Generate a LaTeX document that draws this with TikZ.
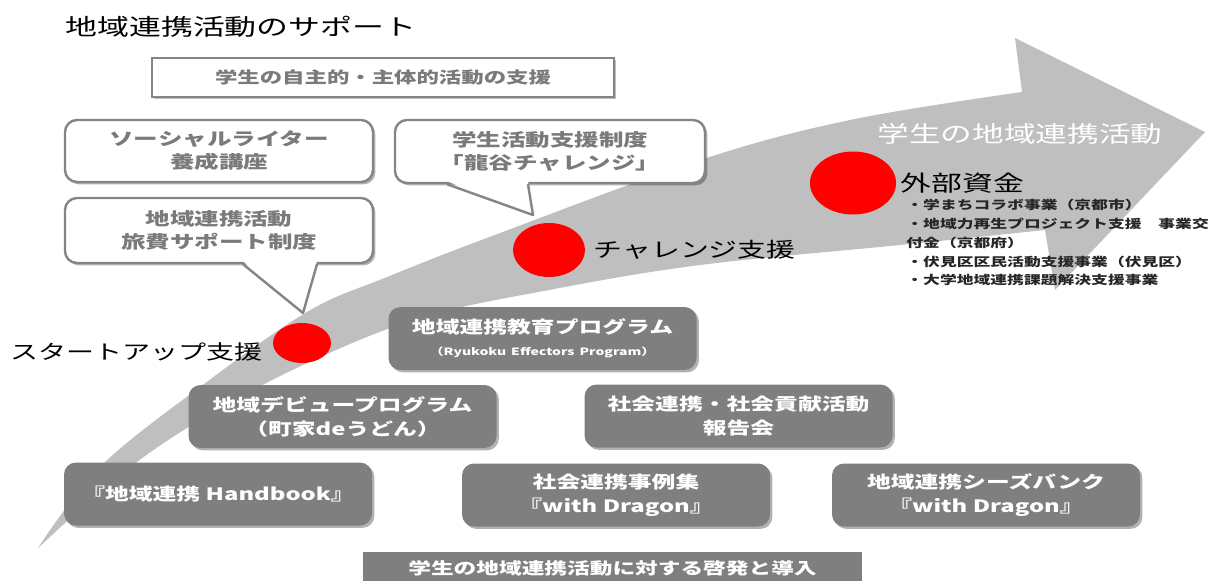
\documentclass[tikz,border=0pt]{standalone}
\usepackage{fontspec}
\setmainfont[FakeStretch=1.4]{Noto Sans CJK JP}
\usetikzlibrary{positioning,shapes.geometric,shadows}

\definecolor{boxgray}{HTML}{7F7F7F}
\definecolor{bandgray}{HTML}{BFBFBF}
\definecolor{linegray}{HTML}{858585}
\definecolor{txtgray}{HTML}{7A7A7A}

\begin{document}
\begin{tikzpicture}[x=0.5pt,y=-0.5pt,
    darkbox/.style={fill=boxgray, rounded corners=6pt, minimum width=154pt, minimum height=31.5pt,
      align=center, text=white, font=\bfseries\fontsize{8.5}{12}\selectfont,
      drop shadow={shadow xshift=1.2pt, shadow yshift=-1.2pt, fill=black, opacity=.3}},
    callout/.style={draw=linegray, line width=1.2pt, fill=white, rounded corners=6pt,
      minimum width=154pt, minimum height=31pt, align=center, text=txtgray,
      font=\bfseries\fontsize{8.75}{11.5}\selectfont,
      drop shadow={shadow xshift=1.2pt, shadow yshift=-1.2pt, fill=black, opacity=.3}},
    reddot/.style={ellipse, fill=red, inner sep=0pt},
    steplabel/.style={anchor=west, inner sep=0pt, text=black}]
  \useasboundingbox (0,0) rectangle (1227,580);

  % curved arrow of the activities
  \fill[bandgray] plot[smooth, tension=0.6] coordinates {(38,548) (100,467) (200,387) (307,312)
      (387,277) (500,233) (700,160) (850,120) (1022,92)}
    -- (1015,38) -- (1205,132) -- (1055,290) -- (1045,230)
    -- plot[smooth, tension=0.6] coordinates {(1045,230) (900,245) (700,265) (549,290) (420,318)
      (303,365) (200,420) (120,475) (38,548)} -- cycle;
  \node[text=white, font=\fontsize{11.3}{13}\selectfont] (flowlabel) at (1020,134) {学生の地域連携活動};

  % title and upper support
  \node[anchor=west, inner sep=0pt, font=\fontsize{11.4}{13}\selectfont] (title) at (65,27) {地域連携活動のサポート};
  \node[draw=linegray, line width=1.2pt, fill=white, minimum width=231pt, minimum height=19.5pt,
    text=txtgray, font=\bfseries\fontsize{8}{10}\selectfont,
    drop shadow={shadow xshift=1pt, shadow yshift=-1pt, fill=black, opacity=.25}]
    (selfsupport) at (383,77.5) {学生の自主的・主体的活動の支援};

  \node[callout] (writer) at (219,151) {ソーシャルライター\\養成講座};
  \node[callout, minimum height=32.5pt] (travel) at (219,230.5) {地域連携活動\\旅費サポート制度};
  \node[callout, minimum width=155pt, minimum height=31.5pt] (ryukoku) at (550,151.5) {学生活動支援制度\\「龍谷チャレンジ」};

  % red points on the arrow
  \node[reddot, minimum width=29pt, minimum height=20pt] (dotstart) at (302,343) {};
  \node[reddot, minimum width=36pt, minimum height=27pt] (dotchallenge) at (549,250) {};
  \node[reddot, minimum width=43pt, minimum height=31.5pt] (dotfund) at (853,183) {};

  % callout pointers
  \coordinate (tipstart) at (303,313);
  \coordinate (tipchallenge) at (533,215);
  \fill[white] ([xshift=12pt,yshift=1.5pt]travel.south) -- (tipstart) -- ([xshift=49pt,yshift=1.5pt]travel.south) -- cycle;
  \draw[linegray, line width=1.2pt, line join=round] ([xshift=12pt]travel.south) -- (tipstart) -- ([xshift=49pt]travel.south);
  \fill[white] ([xshift=-51.5pt,yshift=1.5pt]ryukoku.south) -- (tipchallenge) -- ([xshift=-11pt,yshift=1.5pt]ryukoku.south) -- cycle;
  \draw[linegray, line width=1.2pt, line join=round] ([xshift=-51.5pt]ryukoku.south) -- (tipchallenge) -- ([xshift=-11pt]ryukoku.south);

  \node[steplabel, font=\fontsize{10}{12}\selectfont] (startlabel) at (10,352) {スタートアップ支援};
  \node[steplabel, font=\fontsize{10.3}{12}\selectfont, right=4pt of dotchallenge] (challengelabel) {チャレンジ支援};
  \node[steplabel, font=\fontsize{11}{13}\selectfont, right=2pt of dotfund] (fundlabel) {外部資金};
  \node[anchor=north west, inner sep=0pt, align=left, text=black!85,
    font=\bfseries\fontsize{6}{9.4}\selectfont] (fundlist) at (906,199)
    {・学まちコラボ事業（京都市）\\・地域力再生プロジェクト支援　事業交\\付金（京都府）\\・伏見区区民活動支援事業（伏見区）\\・大学地域連携課題解決支援事業};

  % lower programmes
  \node[darkbox] (eduprog) at (542.5,338.5) {地域連携教育プログラム\\[-1pt]{\fontsize{5}{6}\selectfont （Ryukoku\enspace Effectors\enspace Program）}};
  \node[darkbox] (debut) at (342.5,416.5) {地域デビュープログラム\\（町家deうどん）};
  \node[darkbox] (report) at (738.5,416) {社会連携・社会貢献活動\\報告会};
  \node[darkbox] (handbook) at (218,494) {『地域連携 Handbook』};
  \node[darkbox] (cases) at (616,495) {社会連携事例集\\『with Dragon』};
  \node[darkbox] (seeds) at (986,495) {地域連携シーズバンク\\『with Dragon』};

  \node[fill=boxgray, minimum width=249.5pt, minimum height=16pt, text=white,
    font=\bfseries\fontsize{8.1}{10}\selectfont] (intro) at (612.5,568) {学生の地域連携活動に対する啓発と導入};
\end{tikzpicture}
\end{document}
